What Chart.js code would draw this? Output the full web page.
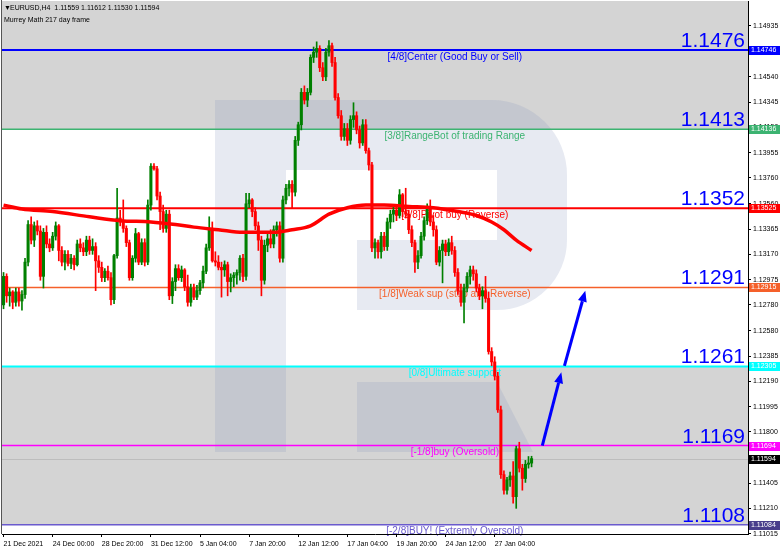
<!DOCTYPE html>
<html>
<head>
<meta charset="utf-8">
<script src="https://cdn.jsdelivr.net/npm/chart.js@4.4.1/dist/chart.umd.min.js"></script>
<style>
  html, body { margin: 0; padding: 0; background: #fff; }
  canvas { display: block; }
</style>
</head>
<body>
<canvas id="chart" width="782" height="552"></canvas>
<script>
// EURUSD H4
const opens = [
  1.1278, 1.1300, 1.1285, 1.1288, 1.1280, 1.1288, 1.1281, 1.1286, 1.1311, 1.1340,
  1.1328, 1.1339, 1.1335, 1.1300, 1.1334, 1.1325, 1.1322, 1.1331, 1.1339, 1.1320,
  1.1311, 1.1317, 1.1310, 1.1314, 1.1309, 1.1325, 1.1322, 1.1319, 1.1328, 1.1320,
  1.1323, 1.1312, 1.1307, 1.1299, 1.1304, 1.1299, 1.1282, 1.1316, 1.1345, 1.1342,
  1.1337, 1.1326, 1.1299, 1.1314, 1.1333, 1.1311, 1.1326, 1.1311, 1.1355, 1.1385,
  1.1383, 1.1362, 1.1350, 1.1337, 1.1348, 1.1285, 1.1296, 1.1306, 1.1299, 1.1305,
  1.1292, 1.1280, 1.1291, 1.1284, 1.1289, 1.1295, 1.1304, 1.1322, 1.1337, 1.1312,
  1.1311, 1.1307, 1.1305, 1.1309, 1.1296, 1.1299, 1.1301, 1.1303, 1.1314, 1.1300,
  1.1356, 1.1359, 1.1350, 1.1339, 1.1328, 1.1297, 1.1324, 1.1329, 1.1325, 1.1336,
  1.1339, 1.1314, 1.1359, 1.1368, 1.1371, 1.1365, 1.1405, 1.1417, 1.1442, 1.1436,
  1.1442, 1.1469, 1.1473, 1.1476, 1.1461, 1.1454, 1.1473, 1.1478, 1.1465, 1.1438,
  1.1424, 1.1408, 1.1414, 1.1405, 1.1421, 1.1424, 1.1413, 1.1403, 1.1417, 1.1397,
  1.1386, 1.1322, 1.1326, 1.1319, 1.1331, 1.1323, 1.1342, 1.1348, 1.1351, 1.1347,
  1.1363, 1.1350, 1.1348, 1.1336, 1.1326, 1.1311, 1.1316, 1.1331, 1.1343, 1.1353,
  1.1342, 1.1336, 1.1311, 1.1320, 1.1325, 1.1319, 1.1326, 1.1320, 1.1303, 1.1289,
  1.1280, 1.1291, 1.1300, 1.1305, 1.1302, 1.1291, 1.1285, 1.1289, 1.1283, 1.1242,
  1.1234, 1.1223, 1.1197, 1.1147, 1.1135, 1.1143, 1.1146, 1.1130, 1.1167, 1.1152,
  1.1144, 1.1155, 1.11559
];
const highs = [
  1.1303, 1.1302, 1.1291, 1.1289, 1.1291, 1.1291, 1.1289, 1.1314, 1.1343, 1.1346,
  1.1342, 1.1343, 1.1339, 1.1337, 1.1339, 1.1329, 1.1334, 1.1342, 1.1340, 1.1323,
  1.1320, 1.1320, 1.1317, 1.1316, 1.1328, 1.1329, 1.1326, 1.1331, 1.1331, 1.1329,
  1.1326, 1.1316, 1.1311, 1.1306, 1.1308, 1.1303, 1.1317, 1.1368, 1.1351, 1.1359,
  1.1339, 1.1328, 1.1316, 1.1337, 1.1334, 1.1329, 1.1329, 1.1359, 1.1387, 1.1387,
  1.1385, 1.1365, 1.1355, 1.1351, 1.1351, 1.1299, 1.1309, 1.1309, 1.1308, 1.1306,
  1.1301, 1.1294, 1.1294, 1.1293, 1.1297, 1.1308, 1.1325, 1.1346, 1.1342, 1.1319,
  1.1316, 1.1311, 1.1312, 1.1311, 1.1302, 1.1303, 1.1305, 1.1316, 1.1317, 1.1364,
  1.1364, 1.1360, 1.1353, 1.1342, 1.1331, 1.1328, 1.1333, 1.1336, 1.1339, 1.1342,
  1.1342, 1.1362, 1.1371, 1.1374, 1.1374, 1.1408, 1.1419, 1.1445, 1.1447, 1.1445,
  1.1471, 1.1477, 1.1481, 1.1478, 1.1465, 1.1476, 1.1482, 1.1480, 1.1469, 1.1441,
  1.1428, 1.1418, 1.1418, 1.1424, 1.1434, 1.1427, 1.1416, 1.1421, 1.1421, 1.1399,
  1.1388, 1.1329, 1.1328, 1.1334, 1.1334, 1.1345, 1.1351, 1.1355, 1.1354, 1.1367,
  1.1364, 1.1368, 1.1351, 1.1339, 1.1328, 1.1320, 1.1334, 1.1346, 1.1356, 1.1359,
  1.1347, 1.1339, 1.1323, 1.1328, 1.1328, 1.1329, 1.1331, 1.1323, 1.1306, 1.1294,
  1.1294, 1.1303, 1.1308, 1.1308, 1.1305, 1.1294, 1.1292, 1.1300, 1.1288, 1.1245,
  1.1238, 1.1226, 1.1200, 1.1150, 1.1145, 1.1149, 1.1157, 1.1169, 1.1172, 1.1155,
  1.1158, 1.1161, 1.11612
];
const lows = [
  1.1275, 1.1280, 1.1277, 1.1275, 1.1277, 1.1277, 1.1274, 1.1283, 1.1308, 1.1325,
  1.1323, 1.1332, 1.1297, 1.1291, 1.1322, 1.1319, 1.1320, 1.1328, 1.1312, 1.1308,
  1.1305, 1.1308, 1.1306, 1.1305, 1.1308, 1.1319, 1.1316, 1.1316, 1.1317, 1.1317,
  1.1289, 1.1303, 1.1296, 1.1296, 1.1297, 1.1278, 1.1279, 1.1314, 1.1339, 1.1334,
  1.1323, 1.1297, 1.1297, 1.1311, 1.1309, 1.1309, 1.1308, 1.1309, 1.1351, 1.1382,
  1.1359, 1.1336, 1.1334, 1.1334, 1.1282, 1.1279, 1.1289, 1.1297, 1.1296, 1.1289,
  1.1277, 1.1277, 1.1282, 1.1282, 1.1286, 1.1291, 1.1302, 1.1320, 1.1311, 1.1308,
  1.1305, 1.1284, 1.1300, 1.1285, 1.1288, 1.1292, 1.1294, 1.1297, 1.1296, 1.1297,
  1.1353, 1.1346, 1.1336, 1.1320, 1.1285, 1.1294, 1.1319, 1.1322, 1.1322, 1.1331,
  1.1311, 1.1311, 1.1356, 1.1362, 1.1353, 1.1362, 1.1401, 1.1413, 1.1433, 1.1431,
  1.1440, 1.1465, 1.1469, 1.1458, 1.1451, 1.1451, 1.1470, 1.1462, 1.1436, 1.1422,
  1.1405, 1.1405, 1.1401, 1.1402, 1.1415, 1.1410, 1.1399, 1.1401, 1.1395, 1.1382,
  1.1319, 1.1314, 1.1314, 1.1314, 1.1320, 1.1320, 1.1337, 1.1342, 1.1343, 1.1345,
  1.1346, 1.1345, 1.1333, 1.1323, 1.1303, 1.1306, 1.1314, 1.1328, 1.1340, 1.1339,
  1.1331, 1.1309, 1.1308, 1.1295, 1.1316, 1.1316, 1.1317, 1.1300, 1.1286, 1.1277,
  1.1264, 1.1288, 1.1294, 1.1297, 1.1288, 1.1282, 1.1275, 1.1280, 1.1240, 1.1231,
  1.1220, 1.1195, 1.1144, 1.1132, 1.1132, 1.1138, 1.1125, 1.1121, 1.1149, 1.1135,
  1.1141, 1.1152, 1.11530
];
const closes = [
  1.1300, 1.1285, 1.1288, 1.1280, 1.1288, 1.1281, 1.1286, 1.1311, 1.1340, 1.1328,
  1.1339, 1.1335, 1.1300, 1.1334, 1.1325, 1.1322, 1.1331, 1.1339, 1.1320, 1.1311,
  1.1317, 1.1310, 1.1314, 1.1309, 1.1325, 1.1322, 1.1319, 1.1328, 1.1320, 1.1323,
  1.1312, 1.1307, 1.1299, 1.1304, 1.1299, 1.1282, 1.1316, 1.1345, 1.1342, 1.1337,
  1.1326, 1.1299, 1.1314, 1.1333, 1.1311, 1.1326, 1.1311, 1.1355, 1.1385, 1.1383,
  1.1362, 1.1350, 1.1337, 1.1348, 1.1285, 1.1296, 1.1306, 1.1299, 1.1305, 1.1292,
  1.1280, 1.1291, 1.1284, 1.1289, 1.1295, 1.1304, 1.1322, 1.1337, 1.1312, 1.1311,
  1.1307, 1.1305, 1.1309, 1.1296, 1.1299, 1.1301, 1.1303, 1.1314, 1.1300, 1.1356,
  1.1359, 1.1350, 1.1339, 1.1328, 1.1297, 1.1324, 1.1329, 1.1325, 1.1336, 1.1339,
  1.1314, 1.1359, 1.1368, 1.1371, 1.1365, 1.1405, 1.1417, 1.1442, 1.1436, 1.1442,
  1.1469, 1.1473, 1.1476, 1.1461, 1.1454, 1.1473, 1.1478, 1.1465, 1.1438, 1.1424,
  1.1408, 1.1414, 1.1405, 1.1421, 1.1424, 1.1413, 1.1403, 1.1417, 1.1397, 1.1386,
  1.1322, 1.1326, 1.1319, 1.1331, 1.1323, 1.1342, 1.1348, 1.1351, 1.1347, 1.1363,
  1.1350, 1.1348, 1.1336, 1.1326, 1.1311, 1.1316, 1.1331, 1.1343, 1.1353, 1.1342,
  1.1336, 1.1311, 1.1320, 1.1325, 1.1319, 1.1326, 1.1320, 1.1303, 1.1289, 1.1280,
  1.1291, 1.1300, 1.1305, 1.1302, 1.1291, 1.1285, 1.1289, 1.1283, 1.1242, 1.1234,
  1.1223, 1.1197, 1.1147, 1.1135, 1.1143, 1.1146, 1.1130, 1.1167, 1.1152, 1.1144,
  1.1155, 1.1156, 1.11594
];

// x axis: one label every 16 bars, free space kept to the right of the last bar
const timeLabels = ['21 Dec 2021', '24 Dec 00:00', '28 Dec 20:00', '31 Dec 12:00', '5 Jan 04:00',
  '7 Jan 20:00', '12 Jan 12:00', '17 Jan 04:00', '19 Jan 20:00', '24 Jan 12:00', '27 Jan 04:00'];
const barsPerLabel = 16;
const totalSlots = 243;

// red moving average, sampled along the curve
const maBars = [0, 6, 16, 28, 38, 48, 56, 62, 70, 78, 88, 94, 100, 106, 112, 118, 124, 132, 140, 148, 154, 159, 163, 167, 172];
const maValues = [1.1355, 1.1352, 1.1350, 1.1346, 1.1343, 1.1342, 1.1340, 1.1338, 1.1336, 1.1334, 1.1334, 1.1336, 1.1339,
  1.1348, 1.1353, 1.1355, 1.1355, 1.1354, 1.1353, 1.1350, 1.1347, 1.1342, 1.1336, 1.1328, 1.1320];

// Murrey Math levels
const levelPrices = [1.14746, 1.14136, 1.13525, 1.12915, 1.12305, 1.11694, 1.11084];
const levelNames = ['[4/8]Center (Good Buy or Sell)', '[3/8]RangeBot of trading Range', '[2/8]Pivot buy (Reverse)',
  '[1/8]Weak sup (stop and Reverse)', '[0/8]Ultimate support', '[-1/8]buy (Oversold)', '[-2/8]BUY! (Extremly Oversold)'];
const levelTags = ['1.1476', '1.1413', '1.1352', '1.1291', '1.1261', '1.1169', '1.1108'];
const lastPrice = 1.11594;

const yTicks = [1.14935, 1.14740, 1.14540, 1.14345, 1.14150, 1.13955, 1.13760, 1.13560, 1.13365, 1.13170, 1.12975,
  1.12780, 1.12580, 1.12385, 1.12190, 1.11995, 1.11800, 1.11600, 1.11405, 1.11210, 1.11015];

// forecast arrows: [bar, price] at tail and at tip
const arrowFrom = [[175.5, 1.11694], [182.7, 1.1231]];
const arrowTo = [[181.7, 1.1226], [189.5, 1.1289]];

const header1 = 'EURUSD,H4  1.11559 1.11612 1.11530 1.11594';
const header2 = 'Murrey Math 217 day frame';

// styles
const lineColors = ['#0000ff', '#3cb371', '#ff0000', '#f5602a', '#00ffff', '#ff00ff', '#6a5acd'];
const boxColors = ['#0000ff', '#3cb371', '#ff0000', '#f5602a', '#00ffff', '#ff00ff', '#483d8b'];
const lineWidths = [2, 1.5, 2, 1.5, 2, 1.5, 1.5];
const FONT = "'Liberation Sans', 'DejaVu Sans', sans-serif";

const labels = Array.from({ length: totalSlots }, (_, i) =>
  (i % barsPerLabel === 0 && timeLabels[i / barsPerLabel]) ? timeLabels[i / barsPerLabel] : '');
const candleColors = closes.map((c, i) => c >= opens[i] ? '#008000' : '#ff0000');
const maData = closes.map(() => null);
maBars.forEach((b, k) => { maData[b] = maValues[k]; });

const mt4Plugin = {
  id: 'mt4',
  beforeDraw(chart) {
    const { ctx, chartArea: a, scales: { x, y } } = chart;
    ctx.save();
    ctx.fillStyle = '#fff';
    ctx.fillRect(0, 0, chart.width, chart.height);

    // grey zones above [3/8] and between [0/8] and [-2/8]
    ctx.fillStyle = '#d4d4d4';
    const y3 = y.getPixelForValue(levelPrices[1]);
    ctx.fillRect(a.left, a.top, a.width, y3 - a.top);
    const y0 = y.getPixelForValue(levelPrices[4]);
    const ym2 = y.getPixelForValue(levelPrices[6]);
    ctx.fillRect(a.left, y0, a.width, ym2 - y0);

    // broker watermark
    const ox = a.left - 2, oy = a.top - 1;
    ctx.fillStyle = 'rgba(136, 150, 190, 0.2)';
    ctx.beginPath();
    ctx.rect(ox + 215, oy + 100, 71, 352);
    ctx.moveTo(ox + 286, oy + 100);
    ctx.lineTo(ox + 492, oy + 100);
    ctx.arcTo(ox + 567, oy + 100, ox + 567, oy + 175, 75);
    ctx.lineTo(ox + 567, oy + 240);
    ctx.arcTo(ox + 567, oy + 310, ox + 497, oy + 310, 70);
    ctx.lineTo(ox + 357, oy + 310);
    ctx.lineTo(ox + 357, oy + 240);
    ctx.lineTo(ox + 497, oy + 240);
    ctx.lineTo(ox + 497, oy + 170);
    ctx.lineTo(ox + 286, oy + 170);
    ctx.closePath();
    ctx.moveTo(ox + 357, oy + 382);
    ctx.lineTo(ox + 497, oy + 382);
    ctx.lineTo(ox + 533, oy + 452);
    ctx.lineTo(ox + 357, oy + 452);
    ctx.closePath();
    ctx.fill();

    // last price line
    const yl = Math.round(y.getPixelForValue(lastPrice)) + 0.5;
    ctx.strokeStyle = '#bdbdbd';
    ctx.lineWidth = 1;
    ctx.beginPath();
    ctx.moveTo(a.left, yl);
    ctx.lineTo(a.right, yl);
    ctx.stroke();

    // levels, their names and big tags
    const cx = x.getPixelForValue(147);
    levelPrices.forEach((p, k) => {
      const py = y.getPixelForValue(p);
      ctx.strokeStyle = lineColors[k];
      ctx.lineWidth = lineWidths[k];
      ctx.beginPath();
      ctx.moveTo(a.left, py);
      ctx.lineTo(a.right, py);
      ctx.stroke();

      ctx.fillStyle = lineColors[k];
      ctx.font = '10px ' + FONT;
      ctx.textAlign = 'center';
      ctx.textBaseline = 'top';
      ctx.fillText(levelNames[k], cx, py + 2);

      ctx.fillStyle = '#0000ff';
      ctx.font = '21px ' + FONT;
      ctx.textAlign = 'right';
      ctx.textBaseline = 'alphabetic';
      ctx.fillText(levelTags[k], a.right - 3, py - 3);
    });

    // arrows
    ctx.strokeStyle = '#0000ff';
    ctx.fillStyle = '#0000ff';
    ctx.lineWidth = 3;
    arrowFrom.forEach((f, k) => {
      const x1 = x.getPixelForValue(f[0]), y1 = y.getPixelForValue(f[1]);
      const x2 = x.getPixelForValue(arrowTo[k][0]), y2 = y.getPixelForValue(arrowTo[k][1]);
      const ang = Math.atan2(y2 - y1, x2 - x1);
      const head = 11, half = 4.5;
      const bx = x2 - head * Math.cos(ang), by = y2 - head * Math.sin(ang);
      ctx.beginPath();
      ctx.moveTo(x1, y1);
      ctx.lineTo(bx, by);
      ctx.stroke();
      ctx.beginPath();
      ctx.moveTo(x2, y2);
      ctx.lineTo(bx + half * Math.sin(ang), by - half * Math.cos(ang));
      ctx.lineTo(bx - half * Math.sin(ang), by + half * Math.cos(ang));
      ctx.closePath();
      ctx.fill();
    });
    ctx.restore();
  },
  afterDraw(chart) {
    const { ctx, chartArea: a, scales: { y } } = chart;
    ctx.save();
    // price boxes on the right scale
    const box = (price, color) => {
      const py = y.getPixelForValue(price);
      ctx.fillStyle = color;
      ctx.fillRect(a.right + 1, Math.round(py) - 4, 31, 9);
      ctx.fillStyle = '#fff';
      ctx.font = '7px ' + FONT;
      ctx.textAlign = 'left';
      ctx.textBaseline = 'middle';
      ctx.fillText(price.toFixed(5), a.right + 3, Math.round(py) + 0.5);
    };
    levelPrices.forEach((p, k) => box(p, boxColors[k]));
    box(lastPrice, '#000');

    // left frame edge
    ctx.strokeStyle = '#555';
    ctx.lineWidth = 1;
    ctx.beginPath();
    ctx.moveTo(a.left - 0.5, 0);
    ctx.lineTo(a.left - 0.5, a.bottom);
    ctx.stroke();

    // header
    ctx.fillStyle = '#000';
    ctx.font = '7px ' + FONT;
    ctx.textAlign = 'left';
    ctx.textBaseline = 'middle';
    ctx.fillText('\u25BC', 4, 8);
    ctx.fillText(header1, 10, 8);
    ctx.fillText(header2, 4, 20);
    ctx.restore();
  }
};

new Chart(document.getElementById('chart'), {
  type: 'bar',
  data: {
    labels,
    datasets: [
      {
        type: 'line',
        data: maData,
        borderColor: '#ff0000',
        borderWidth: 3.5,
        pointRadius: 0,
        spanGaps: true,
        cubicInterpolationMode: 'monotone',
        order: 0
      },
      {
        data: opens.map((o, i) => [o, closes[i]]),
        backgroundColor: candleColors,
        barThickness: 2.4,
        minBarLength: 1,
        grouped: false,
        order: 1
      },
      {
        data: lows.map((l, i) => [l, highs[i]]),
        backgroundColor: candleColors,
        barThickness: 1,
        grouped: false,
        order: 2
      }
    ]
  },
  options: {
    responsive: false,
    animation: false,
    devicePixelRatio: 1,
    layout: { padding: { left: 2, top: 1, right: 0, bottom: 0 } },
    plugins: { legend: { display: false }, tooltip: { enabled: false } },
    scales: {
      x: {
        type: 'category',
        offset: true,
        grid: { drawOnChartArea: false, tickLength: 3, tickColor: '#000', offset: false },
        border: { color: '#000' },
        ticks: {
          autoSkip: false, maxRotation: 0, align: 'start', padding: 3, color: '#000',
          font: { family: FONT, size: 7 }
        },
        afterBuildTicks: (s) => { s.ticks = s.ticks.filter(t => labels[t.value]); },
        afterFit: (s) => { s.height = 18; s.paddingLeft = 0; s.paddingRight = 0; }
      },
      y: {
        position: 'right',
        min: 1.11012,
        max: 1.15125,
        grid: { drawOnChartArea: false, tickLength: 3, tickColor: '#000' },
        border: { color: '#000' },
        ticks: {
          autoSkip: false, padding: 2, color: '#000',
          font: { family: FONT, size: 7 },
          callback: (v) => Number(v).toFixed(5)
        },
        afterBuildTicks: (s) => { s.ticks = yTicks.map(v => ({ value: v })); },
        afterFit: (s) => { s.width = 34; s.paddingTop = 0; s.paddingBottom = 0; }
      }
    }
  },
  plugins: [mt4Plugin]
});
</script>
</body>
</html>
